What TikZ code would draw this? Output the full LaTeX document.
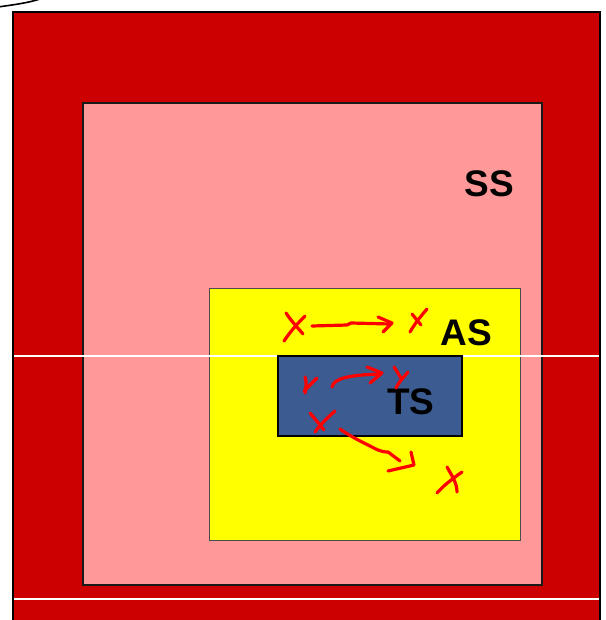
\documentclass[tikz,border=0pt]{standalone}
\usepackage{fontspec}
\setmainfont{Liberation Sans}
\definecolor{outerred}{RGB}{204,0,0}
\definecolor{pinkbox}{RGB}{255,153,153}
\definecolor{yellowbox}{RGB}{255,255,0}
\definecolor{bluebox}{RGB}{59,91,145}
\definecolor{scribble}{RGB}{255,0,0}
\begin{document}
\begin{tikzpicture}[x=1pt,y=-1pt,
  region/.style={draw=black,line width=2pt},
  label/.style={font=\fontsize{37}{40}\selectfont\bfseries,inner sep=0pt,text=black},
  pen/.style={draw=scribble,line width=3.2pt,line cap=round,line join=round},
  sep/.style={draw=white,line width=1.3pt}]
\useasboundingbox (0,0) rectangle (605,620);
\clip (0,0) rectangle (605,620);
% top-left stray stroke
\draw[line width=1.6pt,line cap=round] (-2,7) .. controls (12,5) and (28,3) .. (40,-1);
% outer red region
\filldraw[region,fill=outerred] (13,12) rectangle (600,640);
% pink region
\filldraw[region,fill=pinkbox,draw=black!90] (83,103) rectangle (542,585);
% yellow region
\filldraw[draw=black!70,line width=1pt,fill=yellowbox] (209,288) rectangle (520,540);
% white separator lines
\draw[sep] (14,356) -- (599,356);
\draw[sep] (14,599) -- (599,599);
% blue region
\filldraw[region,fill=bluebox] (278,356) rectangle (462,436);
% labels
\node[label] (ss) at (489,184) {SS};
\node[label] (as) at (466,333) {AS};
\node[label] (ts) at (411,402) {TS};
% red scribbles: crosses
\draw[pen] (286,313) .. controls (292,322) and (298,328) .. (303,334);
\draw[pen] (305,316) .. controls (297,324) and (290,332) .. (284,341);
\draw[pen] (412,314) -- (421,325);
\draw[pen] (427,309) .. controls (420,317) and (414,325) .. (410,332);
\draw[pen] (305,377) .. controls (307,382) and (306,388) .. (305,393);
\draw[pen] (317,378) .. controls (312,383) and (308,387) .. (304,391);
\draw[pen] (394,367) .. controls (397,371) and (399,375) .. (401,378);
\draw[pen] (408,372) .. controls (403,378) and (398,383) .. (396,388);
\draw[pen] (310,413) .. controls (315,419) and (320,425) .. (324,430);
\draw[pen] (335,411) .. controls (327,418) and (320,425) .. (315,432);
\draw[pen] (447,467) .. controls (452,476) and (457,483) .. (457,492);
\draw[pen] (462,472) .. controls (452,479) and (443,486) .. (437,493);
% red scribbles: arrows
\draw[pen] (312,326) -- (347,325) -- (351,323) -- (390,324);
\draw[pen] (378,317) -- (392,323) -- (383,332);
\draw[pen] (332,387) .. controls (334,378) and (350,375) .. (380,374);
\draw[pen] (367,367) -- (382,373) -- (370,383);
\draw[pen] (340,429) .. controls (350,436) and (358,440) .. (368,445)
  .. controls (376,449) and (380,452) .. (388,452) -- (400,461);
\draw[pen] (411,452) -- (414,465) -- (388,471);
\end{tikzpicture}
\end{document}
